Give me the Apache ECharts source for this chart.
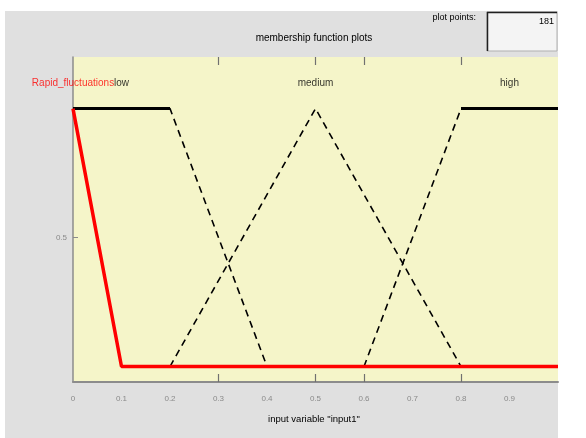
<!DOCTYPE html>
<html>
<head>
<meta charset="utf-8">
<script src="https://cdn.jsdelivr.net/npm/echarts@6/dist/echarts.min.js"></script>
<style>
  html, body { margin: 0; padding: 0; background: #ffffff; }
  #chart { width: 586px; height: 438px; }
</style>
</head>
<body>
<div id="chart"></div>
<script>
// Membership functions of the input variable, as (x, degree) breakpoints
const mfNames = ['Rapid_fluctuations', 'low', 'medium', 'high'];
const rapidPoints = [[0, 1], [0.1, 0], [1, 0]];
const lowPoints = [[0, 1], [0.2, 1], [0.4, 0]];
const mediumPoints = [[0.2, 0], [0.5, 1], [0.8, 0]];
const highPoints = [[0.6, 0], [0.8, 1], [1, 1]];

// Axis ticks and labels
const xTickLabels = [0, 0.1, 0.2, 0.3, 0.4, 0.5, 0.6, 0.7, 0.8, 0.9];
const xTickMarks = [0.3, 0.5, 0.6, 0.8];
const yTickLabels = [0.5];
const plotPoints = '181';

const FONT = 'Liberation Sans, Arial, sans-serif';

// horizontal (plateau) pieces of a membership function at degree 1
function plateaus(pts) {
  const out = [];
  for (let i = 0; i + 1 < pts.length; i++) {
    if (pts[i][1] === 1 && pts[i + 1][1] === 1) {
      out.push([pts[i], pts[i + 1]]);
    }
  }
  return out;
}
// name position: middle of the top of the function
function peakCenter(pts) {
  const top = pts.filter(p => p[1] === 1).map(p => p[0]);
  return (Math.min(...top) + Math.max(...top)) / 2;
}

const blackSets = [lowPoints, mediumPoints, highPoints];
const series = [];

blackSets.forEach(pts => {
  series.push({
    type: 'line', xAxisIndex: 0, yAxisIndex: 0,
    data: pts, symbol: 'none', silent: true, z: 2,
    lineStyle: { color: '#000', width: 1.6, type: [7, 5] }
  });
  plateaus(pts).forEach(seg => {
    series.push({
      type: 'line', xAxisIndex: 0, yAxisIndex: 0,
      data: seg, symbol: 'none', silent: true, z: 3,
      lineStyle: { color: '#000', width: 3 }
    });
  });
});

series.push({
  type: 'line', xAxisIndex: 0, yAxisIndex: 0,
  data: rapidPoints, symbol: 'none', silent: true, z: 4,
  lineStyle: { color: '#ff0000', width: 3.5 }
});

// function names above the curves
const allSets = [rapidPoints, lowPoints, mediumPoints, highPoints];
series.push({
  type: 'scatter', xAxisIndex: 0, yAxisIndex: 0,
  symbolSize: 0, silent: true, clip: false,
  data: allSets.map((pts, i) => ({
    value: [peakCenter(pts), 1.1],
    name: mfNames[i],
    label: {
      show: true, position: 'inside', formatter: '{b}',
      color: i === 0 ? '#ff0000' : '#000',
      fontFamily: FONT, fontSize: 10
    }
  })).reverse(),
  z: 6
});

const chart = echarts.init(document.getElementById('chart'), null, { renderer: 'canvas' });
chart.setOption({
  animation: false,
  backgroundColor: 'transparent',
  graphic: [
    { type: 'rect', z: -10, shape: { x: 5, y: 11, width: 553, height: 427 },
      style: { fill: '#e0e0e0' } },
    { type: 'rect', z: 10, shape: { x: 487, y: 12, width: 70, height: 39 },
      style: { fill: '#f4f4f4', stroke: '#b0b0b0', lineWidth: 1 } },
    { type: 'polyline', z: 11, shape: { points: [[487.5, 51], [487.5, 12.5], [557, 12.5]] },
      style: { stroke: '#202020', lineWidth: 1.5, fill: null } },
    { type: 'text', z: 12, style: { text: plotPoints, x: 554, y: 22, align: 'right',
      verticalAlign: 'middle', font: '9px ' + FONT, fill: '#000' } },
    { type: 'text', z: 12, style: { text: 'plot points:', x: 476, y: 18, align: 'right',
      verticalAlign: 'middle', font: '9px ' + FONT, fill: '#000' } },
    { type: 'text', z: 12, style: { text: 'membership function plots', x: 314, y: 38,
      align: 'center', verticalAlign: 'middle', font: '10px ' + FONT, fill: '#000' } },
    { type: 'text', z: 12, style: { text: 'input variable "input1"', x: 314, y: 419,
      align: 'center', verticalAlign: 'middle', font: '9.5px ' + FONT, fill: '#000' } }
  ],
  grid: {
    left: 73, right: 28, top: 57, bottom: 56,
    show: true, backgroundColor: '#f5f5c9', borderWidth: 0
  },
  xAxis: [
    {
      type: 'value', min: 0, max: 1, interval: 0.1, position: 'bottom',
      axisLine: { show: true, onZero: false, lineStyle: { color: '#8c8c8c', width: 2 } },
      axisTick: { show: true, inside: true, length: 8, customValues: xTickMarks,
        lineStyle: { color: '#707070', width: 1.2 } },
      axisLabel: { customValues: xTickLabels, color: '#8a8a8a', fontSize: 8,
        fontFamily: FONT, margin: 13 },
      splitLine: { show: false }
    },
    {
      type: 'value', min: 0, max: 1, interval: 0.1, position: 'top',
      axisLine: { show: false, onZero: false },
      axisTick: { show: true, inside: true, length: 8, customValues: xTickMarks,
        lineStyle: { color: '#707070', width: 1.2 } },
      axisLabel: { show: false },
      splitLine: { show: false }
    }
  ],
  yAxis: {
    type: 'value', min: -0.06, max: 1.2,
    axisLine: { show: true, onZero: false, lineStyle: { color: '#8c8c8c', width: 1.5 } },
    axisTick: { show: true, inside: true, length: 5, customValues: yTickLabels,
      lineStyle: { color: '#8a8a8a' } },
    axisLabel: { customValues: yTickLabels, color: '#8a8a8a', fontSize: 8,
      fontFamily: FONT, margin: 6 },
    splitLine: { show: false }
  },
  series: series
});
</script>
</body>
</html>
